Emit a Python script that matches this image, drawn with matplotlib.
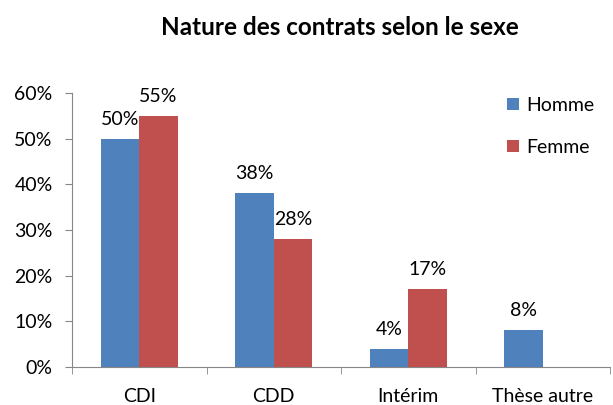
import matplotlib
matplotlib.use("Agg")
import matplotlib.pyplot as plt
import numpy as np

categories = ["CDI", "CDD", "Intérim", "Thèse autre"]
homme = [50, 38, 4, 8]
femme = [55, 28, 17, None]
series_names = ["Homme", "Femme"]
yticks = [0, 10, 20, 30, 40, 50, 60]

plt.rcParams['font.family'] = ['Lato', 'DejaVu Sans']

fig = plt.figure(figsize=(6.13, 4.05), dpi=100)
ax = fig.add_axes([72/613, 38/405, 538/613, 274/405])

x = np.arange(len(categories))
w = 0.285
fs = 14
colors = ["#4F81BD", "#C0504D"]
for i, (vals, name, c) in enumerate(zip([homme, femme], series_names, colors)):
    xs = [xi for xi, v in zip(x, vals) if v is not None]
    vs = [v for v in vals if v is not None]
    offs = (i - 0.5) * w
    bars = ax.bar(np.array(xs) + offs, vs, width=w, color=c, label=name, zorder=2)
    for b, v in zip(bars, vs):
        ax.annotate(f"{v}%", (b.get_x() + b.get_width()/2, v), xytext=(0, 8),
                    textcoords="offset points", ha="center", va="bottom", fontsize=fs)

ax.set_xlim(-0.5, len(categories) - 0.5)
ax.set_ylim(0, 60)
ax.set_yticks(yticks)
ax.set_yticklabels([f"{t}%" for t in yticks], fontsize=fs)
ax.set_xticks(x)
ax.set_xticklabels(categories, fontsize=fs)
ax.tick_params(axis='x', length=0, pad=15)
ax.set_xticks(np.arange(len(categories) + 1) - 0.5, minor=True)
ax.tick_params(axis='x', which='minor', length=5, color="#868686", direction='out')
ax.tick_params(axis='y', length=5, color="#868686", direction='out', pad=9)
for s in ["top", "right"]:
    ax.spines[s].set_visible(False)
for s in ["left", "bottom"]:
    ax.spines[s].set_color("#868686")

fig.text(0.555, 0.933, "Nature des contrats selon le sexe", ha="center", va="center",
         fontsize=17.5, fontweight="bold")

leg = ax.legend(loc="upper left", bbox_to_anchor=(0.776, 1.05), frameon=False,
                fontsize=fs, handlelength=0.6, handleheight=0.6, labelspacing=1.3,
                handletextpad=0.4)

fig.savefig("out.png", dpi=100)
